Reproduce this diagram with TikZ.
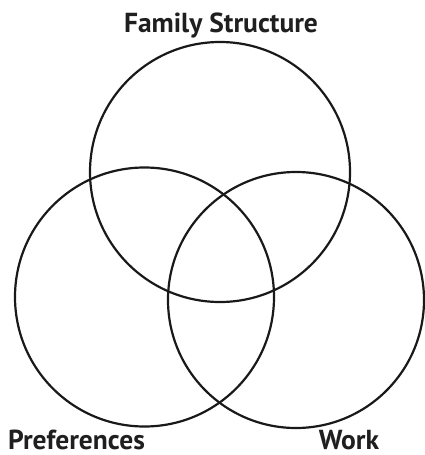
\documentclass[tikz,border=0pt]{standalone}
\usepackage{fontspec}
\setmainfont{PT Sans}
\begin{document}
\begin{tikzpicture}[x=1pt,y=-1pt,
  ring/.style={draw=black!90, line width=2.2pt},
  lbl/.style={font=\bfseries\fontsize{27.5}{30}\selectfont, text=black!88, inner sep=0pt, anchor=base}]
\useasboundingbox (0,0) rectangle (424,455);
\draw[ring] (220,172) circle (130);
\draw[ring] (144.5,297) circle (129.5);
\draw[ring] (296,300) circle (128);
\node[lbl] (fam) at (221,32) {Family Structure};
\node[lbl] (pref) at (76.5,449) {Preferences};
\node[lbl] (work) at (349,449) {Work};
\end{tikzpicture}
\end{document}
